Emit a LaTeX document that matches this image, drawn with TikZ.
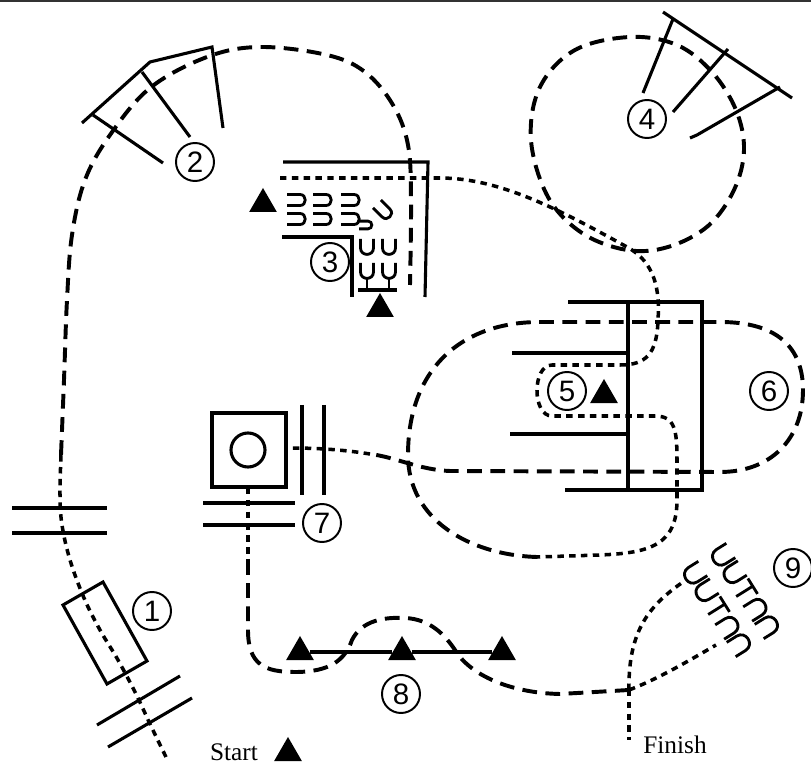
\documentclass[tikz,border=0pt]{standalone}
\usepackage{fontspec}
\setmainfont{Liberation Serif}
\newfontfamily\numfont{Liberation Sans}
\usetikzlibrary{shapes.geometric}

\tikzset{
  bar/.style={line width=2.2pt},
  route/.style={line width=2.8pt, dash pattern=on 10.5pt off 6pt},
  trot/.style={line width=2.5pt, dash pattern=on 4.6pt off 3.8pt},
  num/.style={circle, draw, line width=1.4pt, minimum size=0.95cm, inner sep=0pt,
    font=\numfont\fontsize{21}{21}\selectfont},
  cone/.style={regular polygon, regular polygon sides=3, fill=black, inner sep=0pt, minimum size=0.8cm},
  brush/.pic={\draw[line width=2pt] (-6.5,-8) -- (-6.5,1) .. controls (-6.5,9.5) and (6.5,9.5) .. (6.5,1) -- (6.5,-8);},
  hbrush/.pic={\draw[line width=2pt] (-10,-5.5) -- (3,-5.5) .. controls (10,-5.5) and (10,5.5) .. (3,5.5) -- (-10,5.5);},
  tbrush/.pic={\draw[line width=2pt] (-7,-7) -- (7,-7) (0,-7) -- (0,8);}
}

\begin{document}
\begin{tikzpicture}[x=0.025cm, y=-0.025cm]
\useasboundingbox (0,0) rectangle (811,767);
\fill[black!80] (0,0) rectangle (811,2.5);

% fence 1 and the double bar before it
\draw[bar] (12,508) -- (107,508);
\draw[bar] (12,533) -- (107,533);
\draw[bar] (63,605) -- (103,582) -- (147,661) -- (107,684) -- cycle;
\draw[bar] (97,725) -- (180,676);
\draw[bar] (108,747) -- (192,698);

% fence 2
\draw[bar] (82,123) -- (150,62) -- (212,47) -- (223,128);
\draw[bar] (93,115) -- (163,163);
\draw[bar] (142,72) -- (190,137);

% fence 3
\draw[bar] (283,162) -- (428,162) -- (425,297);
\draw[bar] (282,237) -- (352,237) -- (352,297);
\draw[bar] (358,290) -- (397,290);
\foreach \x in {297,323,351} {
  \pic at (\x,200) {hbrush};
  \pic at (\x,219) {hbrush};
}
\pic[scale=0.7] at (366,225) {hbrush};
\pic[rotate=-45] at (384,211) {hbrush};
\foreach \x in {367,389} {
  \pic at (\x,247) {brush};
  \pic at (\x,271) {brush};
  \draw[line width=2pt] (\x,278) -- (\x,290);
}

% fence 4
\draw[bar] (663,12) -- (792,98);
\draw[bar] (673,19) -- (643,93);
\draw[bar] (728,49) -- (673,112);
\draw[bar] (780,87) -- (697,135) -- (690,138);

% fences 5 and 6
\draw[bar] (568,302) -- (702,302) -- (702,490) -- (565,490);
\draw[bar] (628,302) -- (628,490);
\draw[bar] (512,353) -- (628,353);
\draw[bar] (510,434) -- (628,434);

% fence 7
\draw[bar] (212,413) rectangle (286,487);
\draw[bar] (248,450) circle[radius=17];
\draw[bar] (302,405) -- (302,495);
\draw[bar] (324,405) -- (324,495);
\draw[bar] (203,503) -- (295,503);
\draw[bar] (203,525) -- (295,525);

% fence 9
\foreach \bx/\by in {722/556, 694/574} {
  \pic[rotate=-58, scale=1.3] at (\bx,\by) {brush};
  \pic[rotate=-58, scale=1.3] at ({\bx+11.5},{\by+17.5}) {brush};
  \pic[rotate=-58, scale=1.3] at ({\bx+23},{\by+35}) {tbrush};
  \pic[rotate=122, scale=1.3] at ({\bx+34.5},{\by+52.5}) {brush};
  \pic[rotate=122, scale=1.3] at ({\bx+46},{\by+70}) {brush};
}

% cones
\node[cone] (s3a) at (263,204) {};
\node[cone] (s3b) at (380,309) {};
\node[cone] (s5) at (604,395) {};
\node[cone] (s8a) at (300,652) {};
\node[cone] (s8b) at (402,652) {};
\node[cone] (s8c) at (502,652) {};
\node[cone] (sgo) at (288,753) {};
\draw[bar] (s8a) -- (s8b);
\draw[bar] (s8b) -- (s8c);

% the track
\draw[trot] plot[smooth, tension=0.6] coordinates {(166,757) (150,724) (136,694) (118,660) (100,630) (84,598) (70,560) (62,525) (60,495) (61,455)};
\draw[route] plot[smooth, tension=0.6] coordinates {(61,455) (64,380) (67,300) (72,235) (85,180) (110,135) (150,88) (207,57) (260,47) (327,55) (365,72) (393,105) (408,145) (411,200) (410,285)};
\draw[trot] (280,178) -- (440,178) .. controls (500,178) and (560,210) .. (627,247)
  .. controls (655,262) and (660,290) .. (658,320) .. controls (657,355) and (645,365) .. (620,365)
  -- (552,365) .. controls (532,365) and (532,416) .. (552,416) -- (655,416)
  .. controls (675,416) and (677,430) .. (677,460) -- (677,500)
  .. controls (677,545) and (650,553) .. (600,555) -- (537,557);
\draw[route] plot[smooth cycle, tension=0.6] coordinates {(627,250) (582,233) (548,197) (531,140) (540,87) (575,50) (630,37) (677,45) (712,72) (736,110) (744,150) (734,190) (708,226) (668,247)};
\draw[route] (537,557) .. controls (470,555) and (408,520) .. (408,455)
  .. controls (408,370) and (460,322) .. (540,322) -- (720,322)
  .. controls (790,322) and (803,360) .. (803,390) .. controls (803,440) and (770,472) .. (720,472)
  -- (450,471) .. controls (420,470) and (395,457) .. (370,454);
\draw[trot] (370,454) .. controls (345,450) and (320,448) .. (290,448);
\draw[trot] (248,488) -- (248,560);
\draw[route] (248,560) -- (248,630) .. controls (248,665) and (265,672) .. (295,672)
  .. controls (330,672) and (345,660) .. (352,640) .. controls (362,620) and (385,617) .. (405,618)
  .. controls (430,619) and (445,635) .. (455,650) .. controls (470,675) and (510,693) .. (560,694)
  -- (629,690);
\coordinate (split) at (629,690);
\draw[trot] (split) -- (629,740);
\draw[trot] (split) .. controls (628,630) and (650,605) .. (683,582);
\draw[trot] (split) .. controls (660,678) and (690,660) .. (716,645);

% numbers
\node[num] (n1) at (152,611) {1};
\node[num] (n2) at (195,162) {2};
\node[num] (n3) at (330,262) {3};
\node[num] (n4) at (647,119) {4};
\node[num] (n5) at (567,391) {5};
\node[num] (n6) at (769,391) {6};
\node[num] (n7) at (322,523) {7};
\node[num] (n8) at (401,694) {8};
\node[num] (n9) at (793,568) {9};

\node[font=\fontsize{18}{18}\selectfont, inner sep=0pt] (start) at (234,752) {Start};
\node[font=\fontsize{18}{18}\selectfont, inner sep=0pt] (finish) at (675,745) {Finish};
\end{tikzpicture}
\end{document}
